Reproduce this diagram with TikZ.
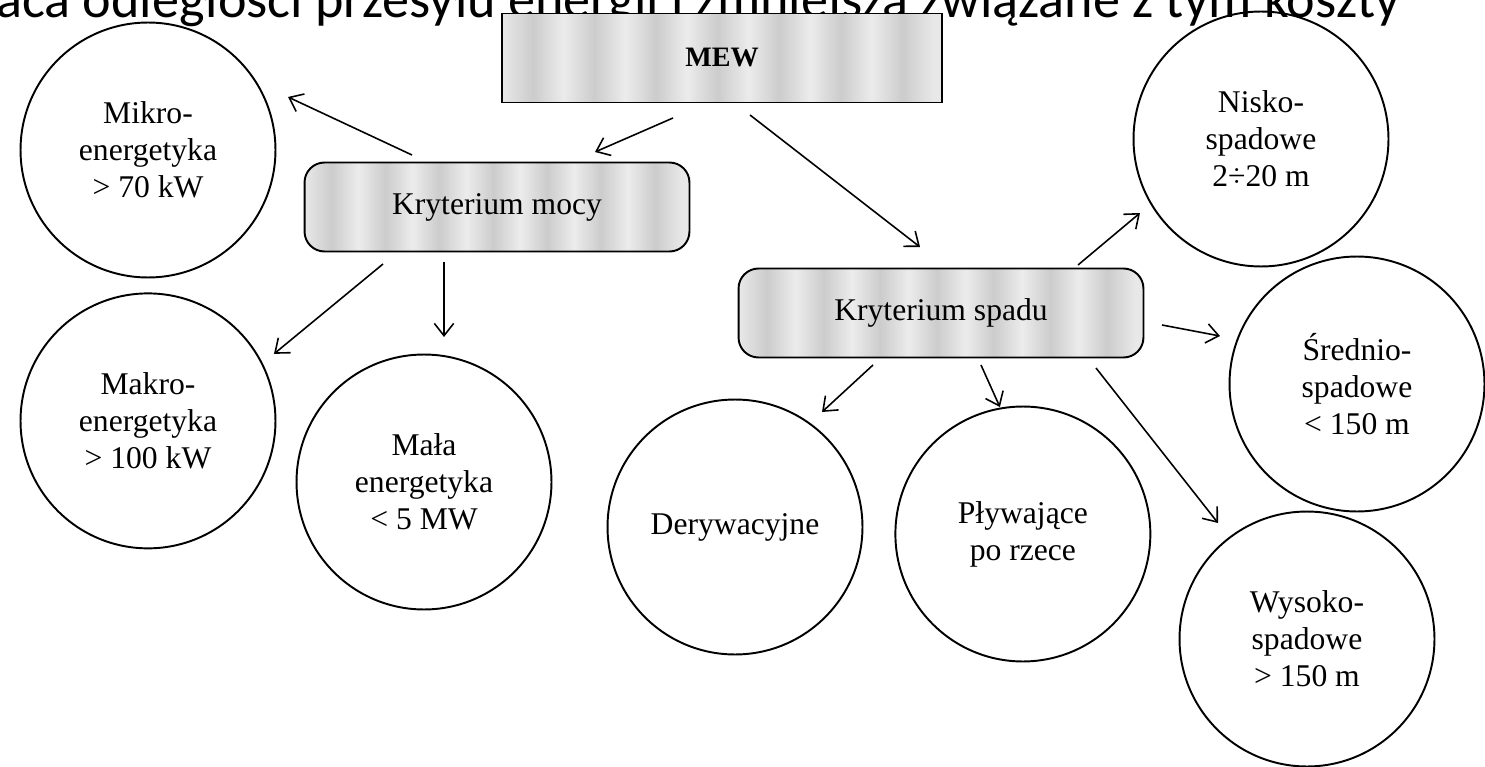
\documentclass[tikz,border=0pt]{standalone}
\usepackage{fontspec}
\setmainfont{Liberation Serif}
\newfontfamily\slidefont{Carlito}
\usetikzlibrary{positioning,calc,arrows.meta}
\pgfdeclarehorizontalshading{scanstripes}{100bp}{color(0bp)=(gray!18); color(25bp)=(gray!18);
  color(28.5bp)=(gray!40); color(32bp)=(gray!15); color(35.5bp)=(gray!40); color(39bp)=(gray!15);
  color(42.5bp)=(gray!40); color(46bp)=(gray!15); color(49.5bp)=(gray!40); color(53bp)=(gray!15);
  color(56.5bp)=(gray!40); color(60bp)=(gray!15); color(63.5bp)=(gray!40); color(67bp)=(gray!15);
  color(70.5bp)=(gray!40); color(74bp)=(gray!18); color(100bp)=(gray!18)}
\tikzset{crit/.style={draw,line width=1.1pt,shade,shading=scanstripes,minimum height=1.78cm,
		 font=\fontsize{18}{21}\selectfont},
	 kind/.style={circle,draw,line width=1.1pt,minimum size=5.1cm,inner sep=0pt,align=center,
		 font=\fontsize{18}{21}\selectfont},
	 arr/.style={-{Straight Barb[length=7pt,width=11pt]},line width=0.9pt},
	 slide/.style={font=\slidefont\fontsize{30.8}{34}\selectfont,inner sep=0pt}
	 }

\begin{document}
\begin{tikzpicture}[x=0.02cm,y=-0.02cm] % MEW classification
	\useasboundingbox (0,0) rectangle (1485,767);
	\node[slide,anchor=base west] (tytul) at (-4,18) {aca odległości przesyłu energii i zmniejsza związane z tym koszty};
	\node[crit,minimum width=8.8cm,font=\fontsize{16}{19}\selectfont\bfseries] (mew) at (722,58) {MEW};
	\node[crit,rounded corners=0.4cm,minimum width=7.7cm] (moc) at (497,207) {Kryterium mocy};
	\node[crit,rounded corners=0.4cm,minimum width=8.1cm] (spad) at (941,313) {Kryterium spadu};
	\node[kind] (mikro) at (148,150) {Mikro-\\energetyka\\> 70 kW};
	\node[kind] (makro) [below=0.28cm of mikro] {Makro-\\energetyka\\> 100 kW};
	\node[kind] (mala) at (424,482) {Mała\\energetyka\\< 5 MW};
	\node[kind] (nisko) at (1261,139) {Nisko-\\spadowe\\2÷20 m};
	\node[kind] (srednio) at (1357,384) {Średnio-\\spadowe\\< 150 m};
	\node[kind] (deryw) at (735,527) {Derywacyjne};
	\node[kind] (plyw) [right=0.62cm of deryw,yshift=-0.14cm] {Pływające\\po rzece};
	\node[kind] (wysoko) at (1307,639) {Wysoko-\\spadowe\\> 150 m};
	\draw[arr] ($(mew)+(-49,60)$) -- ($(moc)+(98,-55)$);
	\draw[arr] ($(mew)+(28,57)$) -- ($(spad)+(-21,-66)$);
	\draw[arr] ($(moc)+(-85,-52)$) -- ($(mikro)+(140,-53)$);
	\draw[arr] ($(moc)+(-114,57)$) -- ($(makro)+(126,-67)$);
	\draw[arr] ($(moc)+(-53,55)$) -- ($(mala)+(20,-145)$);
	\draw[arr] ($(spad)+(137,-48)$) -- ($(nisko)+(-121,74)$);
	\draw[arr] ($(spad)+(221,12)$) -- ($(srednio)+(-137,-48)$);
	\draw[arr] ($(spad)+(-68,52)$) -- ($(deryw)+(87,-115)$);
	\draw[arr] ($(spad)+(40,52)$) -- ($(plyw)+(-23,-127)$);
	\draw[arr] ($(spad)+(155,55)$) -- ($(wysoko)+(-89,-116)$);
\end{tikzpicture}
\end{document}
